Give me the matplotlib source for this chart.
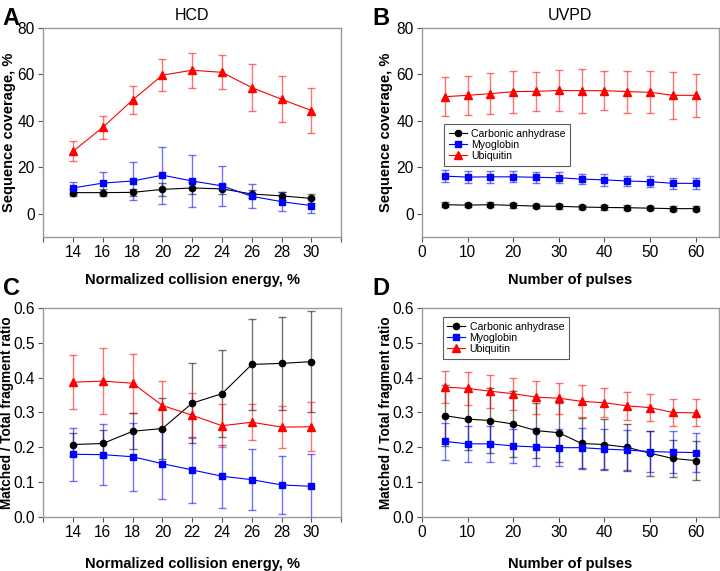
import matplotlib
matplotlib.use("Agg")
import matplotlib.pyplot as plt

plt.rcParams["font.family"] = ["Liberation Sans", "DejaVu Sans"]

SERIES = ["Carbonic anhydrase", "Myoglobin", "Ubiquitin"]

# HCD: normalized collision energy
nce = [14, 16, 18, 20, 22, 24, 26, 28, 30]
hcd_cov_ca = [9.1, 9.1, 9.2, 10.5, 11.1, 10.7, 8.5, 7.7, 6.6]
hcd_cov_ca_err = [1.5, 1.5, 1.5, 2.9, 2.6, 2.3, 1.8, 1.7, 2.0]
hcd_cov_mb = [11.1, 13.2, 14.1, 16.6, 14.1, 12.0, 7.5, 5.2, 3.5]
hcd_cov_mb_err = [2.5, 4.8, 8.3, 12.2, 11.0, 8.6, 5.2, 4.0, 3.0]
hcd_cov_ub = [26.9, 37.2, 49.0, 59.7, 61.8, 60.9, 54.3, 49.3, 44.4]
hcd_cov_ub_err = [4.3, 5.0, 6.0, 6.8, 7.5, 7.3, 10.0, 10.0, 9.6]

hcd_ratio_ca = [0.208, 0.211, 0.246, 0.254, 0.327, 0.354, 0.438, 0.441, 0.446]
hcd_ratio_ca_err = [0.033, 0.038, 0.052, 0.087, 0.116, 0.124, 0.131, 0.133, 0.146]
hcd_ratio_mb = [0.180, 0.179, 0.173, 0.153, 0.135, 0.117, 0.107, 0.092, 0.088]
hcd_ratio_mb_err = [0.076, 0.088, 0.097, 0.100, 0.096, 0.090, 0.088, 0.083, 0.092]
hcd_ratio_ub = [0.387, 0.390, 0.384, 0.320, 0.292, 0.262, 0.272, 0.258, 0.259]
hcd_ratio_ub_err = [0.078, 0.094, 0.085, 0.070, 0.065, 0.061, 0.051, 0.060, 0.070]

# UVPD: number of pulses
pulses = [5, 10, 15, 20, 25, 30, 35, 40, 45, 50, 55, 60]
uvpd_cov_ca = [3.9, 3.7, 3.9, 3.6, 3.3, 3.2, 2.9, 2.7, 2.6, 2.4, 2.2, 2.2]
uvpd_cov_ca_err = [1.0, 1.0, 1.0, 1.0, 1.0, 1.0, 1.0, 1.0, 1.0, 1.0, 1.0, 1.0]
uvpd_cov_mb = [16.2, 15.8, 15.9, 15.9, 15.7, 15.5, 14.9, 14.6, 14.1, 13.8, 13.1, 13.1]
uvpd_cov_mb_err = [2.5, 2.4, 2.5, 2.4, 2.4, 2.3, 2.3, 2.5, 2.3, 2.3, 2.3, 2.4]
uvpd_cov_ub = [50.4, 51.0, 51.7, 52.6, 52.7, 53.1, 53.0, 53.0, 52.6, 52.3, 51.0, 51.0]
uvpd_cov_ub_err = [8.5, 8.5, 8.7, 9.0, 8.5, 8.8, 9.5, 8.5, 9.0, 9.0, 10.0, 9.3]

uvpd_ratio_ca = [0.291, 0.281, 0.277, 0.267, 0.248, 0.242, 0.211, 0.208, 0.200, 0.183, 0.168, 0.162]
uvpd_ratio_ca_err = [0.088, 0.090, 0.092, 0.094, 0.078, 0.084, 0.072, 0.074, 0.067, 0.064, 0.054, 0.056]
uvpd_ratio_mb = [0.217, 0.210, 0.210, 0.204, 0.201, 0.199, 0.199, 0.195, 0.192, 0.188, 0.186, 0.185]
uvpd_ratio_mb_err = [0.053, 0.052, 0.052, 0.050, 0.055, 0.054, 0.057, 0.057, 0.058, 0.058, 0.060, 0.055]
uvpd_ratio_ub = [0.373, 0.369, 0.361, 0.354, 0.344, 0.341, 0.332, 0.328, 0.319, 0.314, 0.300, 0.299]
uvpd_ratio_ub_err = [0.047, 0.048, 0.047, 0.046, 0.047, 0.044, 0.046, 0.041, 0.040, 0.039, 0.038, 0.039]

STYLES = [
    dict(color="black", marker="o", ms=4.5, ecolor=(0, 0, 0, 0.55)),
    dict(color="#0000ff", marker="s", ms=5, ecolor=(0, 0, 1, 0.55)),
    dict(color="#ff0000", marker="^", ms=5.5, ecolor=(1, 0, 0, 0.55)),
]
SPINE = "#9a9a9a"
RATIO_TICKS = [0.0, 0.1, 0.2, 0.3, 0.4, 0.5, 0.6]


def style_axes(ax):
    for side in ["top", "right", "left", "bottom"]:
        ax.spines[side].set_color(SPINE)
        ax.spines[side].set_linewidth(1.0)
    ax.tick_params(direction="out", length=3.5, width=0.8, color="#555555",
                   labelsize=11.2, top=False, right=False, pad=2.5)


def draw_series(ax, x, values, errors):
    lines = []
    for ys, es, st in zip(values, errors, STYLES):
        cont = ax.errorbar(x, ys, yerr=es, color=st["color"], marker=st["marker"],
                           ms=st["ms"], lw=0.8, ecolor=st["ecolor"], elinewidth=1.0,
                           capsize=3, capthick=1.0, zorder=3)
        lines.append(cont.lines[0])
    return lines


def nce_axis(ax, pad):
    ax.set_xlim(12, 32)
    ax.set_xticks(range(12, 33, 2))
    ax.set_xticklabels([""] + [str(v) for v in nce] + [""])
    ax.set_xlabel("Normalized collision energy, %", fontweight="bold",
                  fontsize=10.5, labelpad=pad)


def pulse_axis(ax, pad):
    ax.set_xlim(0, 65)
    ax.set_xticks(range(0, 61, 10))
    ax.set_xlabel("Number of pulses", fontweight="bold", fontsize=10.5,
                  labelpad=pad)


def add_legend(ax, lines, anchor):
    leg = ax.legend(lines, SERIES, loc="upper left", bbox_to_anchor=anchor,
                    fontsize=7.6, frameon=True, fancybox=False,
                    handlelength=1.7, borderpad=0.45, labelspacing=0.1,
                    handletextpad=0.4, borderaxespad=0)
    leg.get_frame().set_edgecolor("#333333")
    leg.get_frame().set_linewidth(0.8)


fig = plt.figure(figsize=(7.2, 5.71), dpi=100)
fig.patch.set_facecolor("white")

ax_a = fig.add_axes([0.060, 0.585, 0.414, 0.366])
ax_b = fig.add_axes([0.586, 0.585, 0.412, 0.366])
ax_c = fig.add_axes([0.060, 0.0946, 0.414, 0.366])
ax_d = fig.add_axes([0.586, 0.0946, 0.412, 0.366])

# A - HCD coverage
draw_series(ax_a, nce, [hcd_cov_ca, hcd_cov_mb, hcd_cov_ub],
            [hcd_cov_ca_err, hcd_cov_mb_err, hcd_cov_ub_err])
ax_a.set_ylim(-10, 80)
ax_a.set_yticks([0, 20, 40, 60, 80])
ax_a.set_ylabel("Sequence coverage, %", fontweight="bold", fontsize=10.5)
ax_a.yaxis.set_label_coords(-0.092, 0.5)
ax_a.set_title("HCD", fontsize=11.5, pad=6)
nce_axis(ax_a, 9)

# B - UVPD coverage
lines_b = draw_series(ax_b, pulses, [uvpd_cov_ca, uvpd_cov_mb, uvpd_cov_ub],
                      [uvpd_cov_ca_err, uvpd_cov_mb_err, uvpd_cov_ub_err])
ax_b.set_ylim(-10, 80)
ax_b.set_yticks([0, 20, 40, 60, 80])
ax_b.set_ylabel("Sequence coverage, %", fontweight="bold", fontsize=10.5)
ax_b.yaxis.set_label_coords(-0.098, 0.5)
ax_b.set_title("UVPD", fontsize=11.5, pad=6)
pulse_axis(ax_b, 9)
add_legend(ax_b, lines_b, (0.074, 0.54))

# C - HCD ratio
draw_series(ax_c, nce, [hcd_ratio_ca, hcd_ratio_mb, hcd_ratio_ub],
            [hcd_ratio_ca_err, hcd_ratio_mb_err, hcd_ratio_ub_err])
ax_c.set_ylim(0, 0.6)
ax_c.set_yticks(RATIO_TICKS)
ax_c.set_yticklabels(["%.1f" % v for v in RATIO_TICKS])
ax_c.set_ylabel("Matched / Total fragment ratio", fontweight="bold", fontsize=9.8)
ax_c.yaxis.set_label_coords(-0.097, 0.5)
nce_axis(ax_c, 12)

# D - UVPD ratio
lines_d = draw_series(ax_d, pulses, [uvpd_ratio_ca, uvpd_ratio_mb, uvpd_ratio_ub],
                      [uvpd_ratio_ca_err, uvpd_ratio_mb_err, uvpd_ratio_ub_err])
ax_d.set_ylim(0, 0.6)
ax_d.set_yticks(RATIO_TICKS)
ax_d.set_yticklabels(["%.1f" % v for v in RATIO_TICKS])
ax_d.set_ylabel("Matched / Total fragment ratio", fontweight="bold", fontsize=9.8)
ax_d.yaxis.set_label_coords(-0.098, 0.5)
pulse_axis(ax_d, 12)
add_legend(ax_d, lines_d, (0.07, 0.957))

for ax in [ax_a, ax_b, ax_c, ax_d]:
    style_axes(ax)

for letter, x, y in [("A", 0.004, 0.988), ("B", 0.517, 0.988),
                     ("C", 0.004, 0.515), ("D", 0.517, 0.515)]:
    fig.text(x, y, letter, fontsize=17, fontweight="bold", va="top", ha="left")

plt.savefig("out.png", dpi=100)
